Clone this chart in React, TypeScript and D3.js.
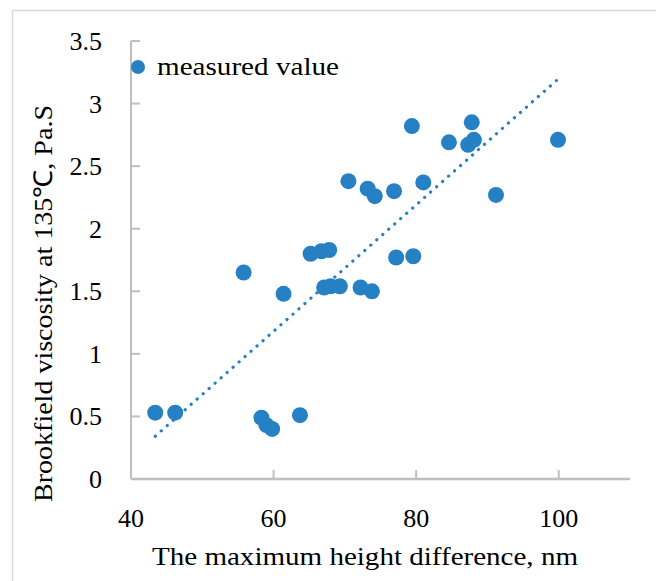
import React from "react";
import * as d3 from "d3";

const heightDiff = [
  43.4, 46.2, 58.3, 59.0, 59.8, 63.7, 61.4, 65.2, 66.7, 67.8,
  67.1, 68.0, 69.3, 72.2, 73.8, 77.2, 79.6, 70.5, 73.2, 74.2,
  76.9, 81.0, 79.4, 87.8, 84.6, 87.3, 88.1, 99.9, 91.2, 55.8,
];
const viscosity = [
  0.53, 0.53, 0.49, 0.43, 0.40, 0.51, 1.48, 1.80, 1.82, 1.83,
  1.53, 1.54, 1.54, 1.53, 1.50, 1.77, 1.78, 2.38, 2.32, 2.26,
  2.30, 2.37, 2.82, 2.85, 2.69, 2.67, 2.71, 2.71, 2.27, 1.65,
];
const xTicks = [40, 60, 80, 100];
const yTicks = [0, 0.5, 1, 1.5, 2, 2.5, 3, 3.5];
const xTitle = "The maximum height difference, nm";
const yTitle = "Brookfield viscosity at 135\u2103, Pa.S";
const legendLabel = "measured value";

const W = 656;
const H = 581;
const BLUE = "#2581c4";
const AXIS = "#bfbfbf";
const FONT = "'Liberation Serif', 'Times New Roman', serif";

export default function App() {
  const x = d3.scaleLinear().domain([40, 110]).range([131, 630]);
  const y = d3.scaleLinear().domain([0, 3.5]).range([479, 41]);

  const pts = heightDiff.map((v, i) => [v, viscosity[i]] as [number, number]);
  const mx = d3.mean(heightDiff) as number;
  const my = d3.mean(viscosity) as number;
  let sxy = 0;
  let sxx = 0;
  pts.forEach(([a, b]) => {
    sxy += (a - mx) * (b - my);
    sxx += (a - mx) * (a - mx);
  });
  const slope = sxy / sxx;
  const icpt = my - slope * mx;
  const [x0, x1] = d3.extent(heightDiff) as [number, number];
  const line = d3
    .line<number>()
    .x((d) => x(d))
    .y((d) => y(icpt + slope * d));

  return (
    <div style={{ position: "absolute", left: 0, top: 0 }}>
      <svg width={W} height={H} style={{ display: "block" }}>
        <rect x={0} y={0} width={W} height={H} fill="#fff" />
        <rect x={12.5} y={10.5} width={W} height={H} fill="none" stroke="#d9d9d9" strokeWidth={1.5} />
        {/* axes */}
        <line x1={x(40)} x2={x(110)} y1={y(0)} y2={y(0)} stroke={AXIS} strokeWidth={2.5} />
        <line x1={x(40)} x2={x(40)} y1={y(0)} y2={y(3.5)} stroke={AXIS} strokeWidth={2} />
        {yTicks.map((t) => (
          <g key={"y" + t}>
            <line x1={x(40)} x2={x(40) + 9} y1={y(t)} y2={y(t)} stroke={AXIS} strokeWidth={2} />
            <text
              x={102}
              y={y(t) + 9}
              textAnchor="end"
              fontFamily={FONT}
              fontSize={26}
              fill="#000"
            >
              {String(t)}
            </text>
          </g>
        ))}
        {xTicks.map((t) => (
          <g key={"x" + t}>
            <line x1={x(t)} x2={x(t)} y1={y(0)} y2={y(0) - 9} stroke={AXIS} strokeWidth={2} />
            <text
              x={x(t)}
              y={527}
              textAnchor="middle"
              fontFamily={FONT}
              fontSize={26}
              fill="#000"
            >
              {String(t)}
            </text>
          </g>
        ))}
        {/* trendline */}
        <path
          d={line([x0, x1]) || ""}
          fill="none"
          stroke={BLUE}
          strokeWidth={3.2}
          strokeLinecap="round"
          strokeDasharray="0.1 7.9"
        />
        {/* points */}
        {pts.map(([a, b], i) => (
          <circle key={i} cx={x(a)} cy={y(b)} r={8} fill={BLUE} />
        ))}
        {/* legend */}
        <circle cx={138} cy={67} r={7} fill={BLUE} />
        <text
          x={157}
          y={75}
          fontFamily={FONT}
          fontSize={26}
          textLength={182}
          lengthAdjust="spacingAndGlyphs"
          fill="#000"
        >
          {legendLabel}
        </text>
        {/* titles */}
        <text
          x={152}
          y={565}
          fontFamily={FONT}
          fontSize={26}
          textLength={426}
          lengthAdjust="spacingAndGlyphs"
          fill="#000"
        >
          {xTitle}
        </text>
        <text
          transform={`translate(52, 502) rotate(-90)`}
          x={0}
          y={0}
          fontFamily={FONT}
          fontSize={26}
          textLength={397}
          lengthAdjust="spacingAndGlyphs"
          fill="#000"
        >
          {yTitle}
        </text>
      </svg>
    </div>
  );
}
